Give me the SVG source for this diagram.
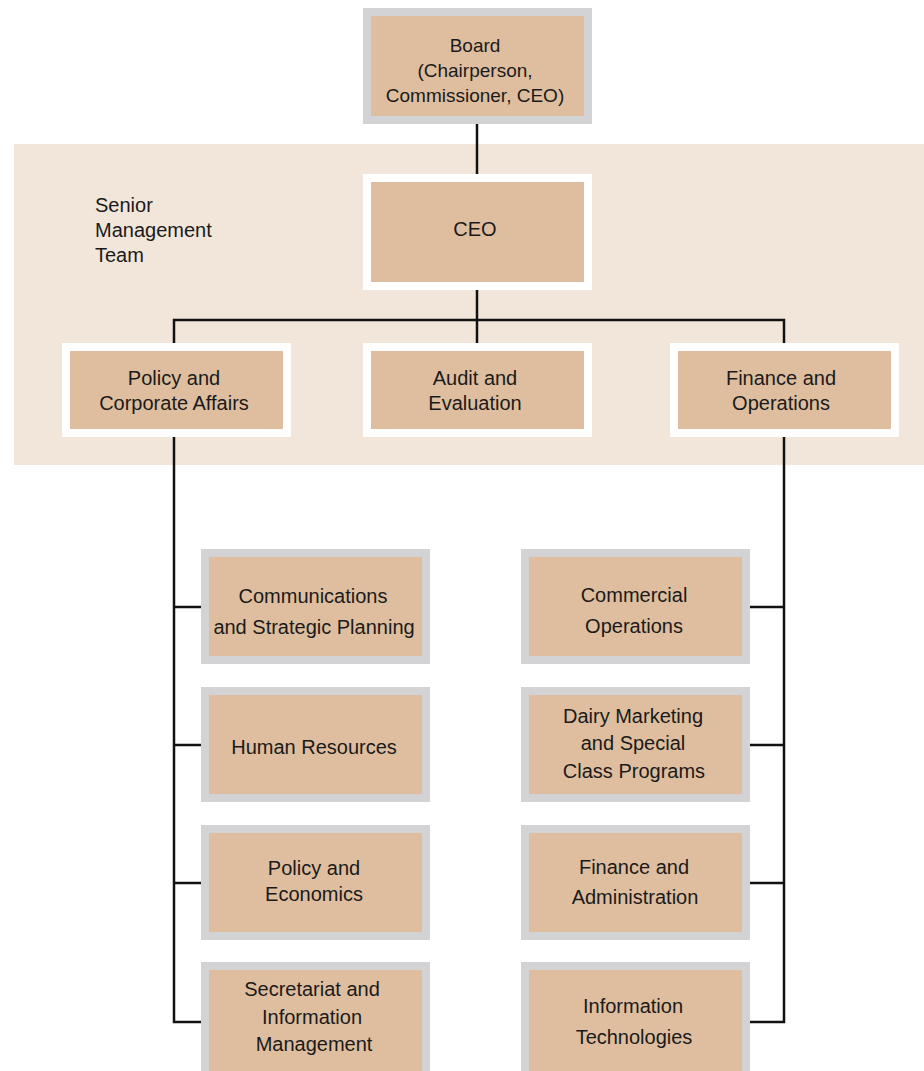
<svg xmlns="http://www.w3.org/2000/svg" width="924" height="1071" viewBox="0 0 924 1071">
<style>
.grey{fill:#dfbe9f;stroke:#d3d3d5;stroke-width:8}
.white{fill:#dfbe9f;stroke:#ffffff;stroke-width:8}
text{font-family:"Liberation Sans",Arial,sans-serif;font-size:20px;fill:#1a1a1a}
.c{text-anchor:middle}
.conn{stroke:#111;stroke-width:2.5;fill:none}
</style>
<rect x="0" y="0" width="924" height="1071" fill="#ffffff"/>
<rect id="band" x="14" y="144" width="910" height="321" fill="#f2e6da"/>
<text x="95" y="212">Senior</text>
<text x="95" y="237">Management</text>
<text x="95" y="262">Team</text>
<g id="connectors" class="conn">
<path d="M477 124V174"/>
<path d="M477 290V343"/>
<path d="M174 343V320H784V343"/>
<path d="M174 437V1022H201"/>
<path d="M174 607H201"/>
<path d="M174 745H201"/>
<path d="M174 883H201"/>
<path d="M784 437V1022H750"/>
<path d="M784 607H750"/>
<path d="M784 745H750"/>
<path d="M784 883H750"/>
</g>
<g id="board"><rect class="grey" x="367" y="12" width="221" height="108"/>
<text class="c" x="475" y="52" style="font-size:19px">Board</text>
<text class="c" x="475" y="77" style="font-size:19px">(Chairperson,</text>
<text class="c" x="475" y="102" style="font-size:19px">Commissioner, CEO)</text></g>
<g id="ceo"><rect class="white" x="367" y="178" width="221" height="108"/>
<text class="c" x="475" y="236">CEO</text></g>
<g id="policy-corp"><rect class="white" x="66" y="347" width="221" height="86"/>
<text class="c" x="174" y="385">Policy and</text>
<text class="c" x="174" y="410">Corporate Affairs</text></g>
<g id="audit"><rect class="white" x="367" y="347" width="221" height="86"/>
<text class="c" x="475" y="385">Audit and</text>
<text class="c" x="475" y="410">Evaluation</text></g>
<g id="finance-ops"><rect class="white" x="674" y="347" width="221" height="86"/>
<text class="c" x="781" y="385">Finance and</text>
<text class="c" x="781" y="410">Operations</text></g>
<g id="comms"><rect class="grey" x="205" y="553" width="221" height="107"/>
<text class="c" x="313" y="603">Communications</text>
<text class="c" x="314" y="634">and Strategic Planning</text></g>
<g id="hr"><rect class="grey" x="205" y="691" width="221" height="107"/>
<text class="c" x="314" y="754">Human Resources</text></g>
<g id="policy-econ"><rect class="grey" x="205" y="829" width="221" height="107"/>
<text class="c" x="314" y="875">Policy and</text>
<text class="c" x="314" y="901">Economics</text></g>
<g id="secretariat"><rect class="grey" x="205" y="966" width="221" height="110"/>
<text class="c" x="312" y="996">Secretariat and</text>
<text class="c" x="312" y="1024">Information</text>
<text class="c" x="314" y="1051">Management</text></g>
<g id="commercial"><rect class="grey" x="525" y="553" width="221" height="107"/>
<text class="c" x="634" y="602">Commercial</text>
<text class="c" x="634" y="633">Operations</text></g>
<g id="dairy"><rect class="grey" x="525" y="691" width="221" height="107"/>
<text class="c" x="633" y="723">Dairy Marketing</text>
<text class="c" x="633" y="750">and Special</text>
<text class="c" x="634" y="778">Class Programs</text></g>
<g id="finance-admin"><rect class="grey" x="525" y="829" width="221" height="107"/>
<text class="c" x="634" y="874">Finance and</text>
<text class="c" x="635" y="904">Administration</text></g>
<g id="it"><rect class="grey" x="525" y="966" width="221" height="110"/>
<text class="c" x="633" y="1013">Information</text>
<text class="c" x="634" y="1044">Technologies</text></g>
</svg>
